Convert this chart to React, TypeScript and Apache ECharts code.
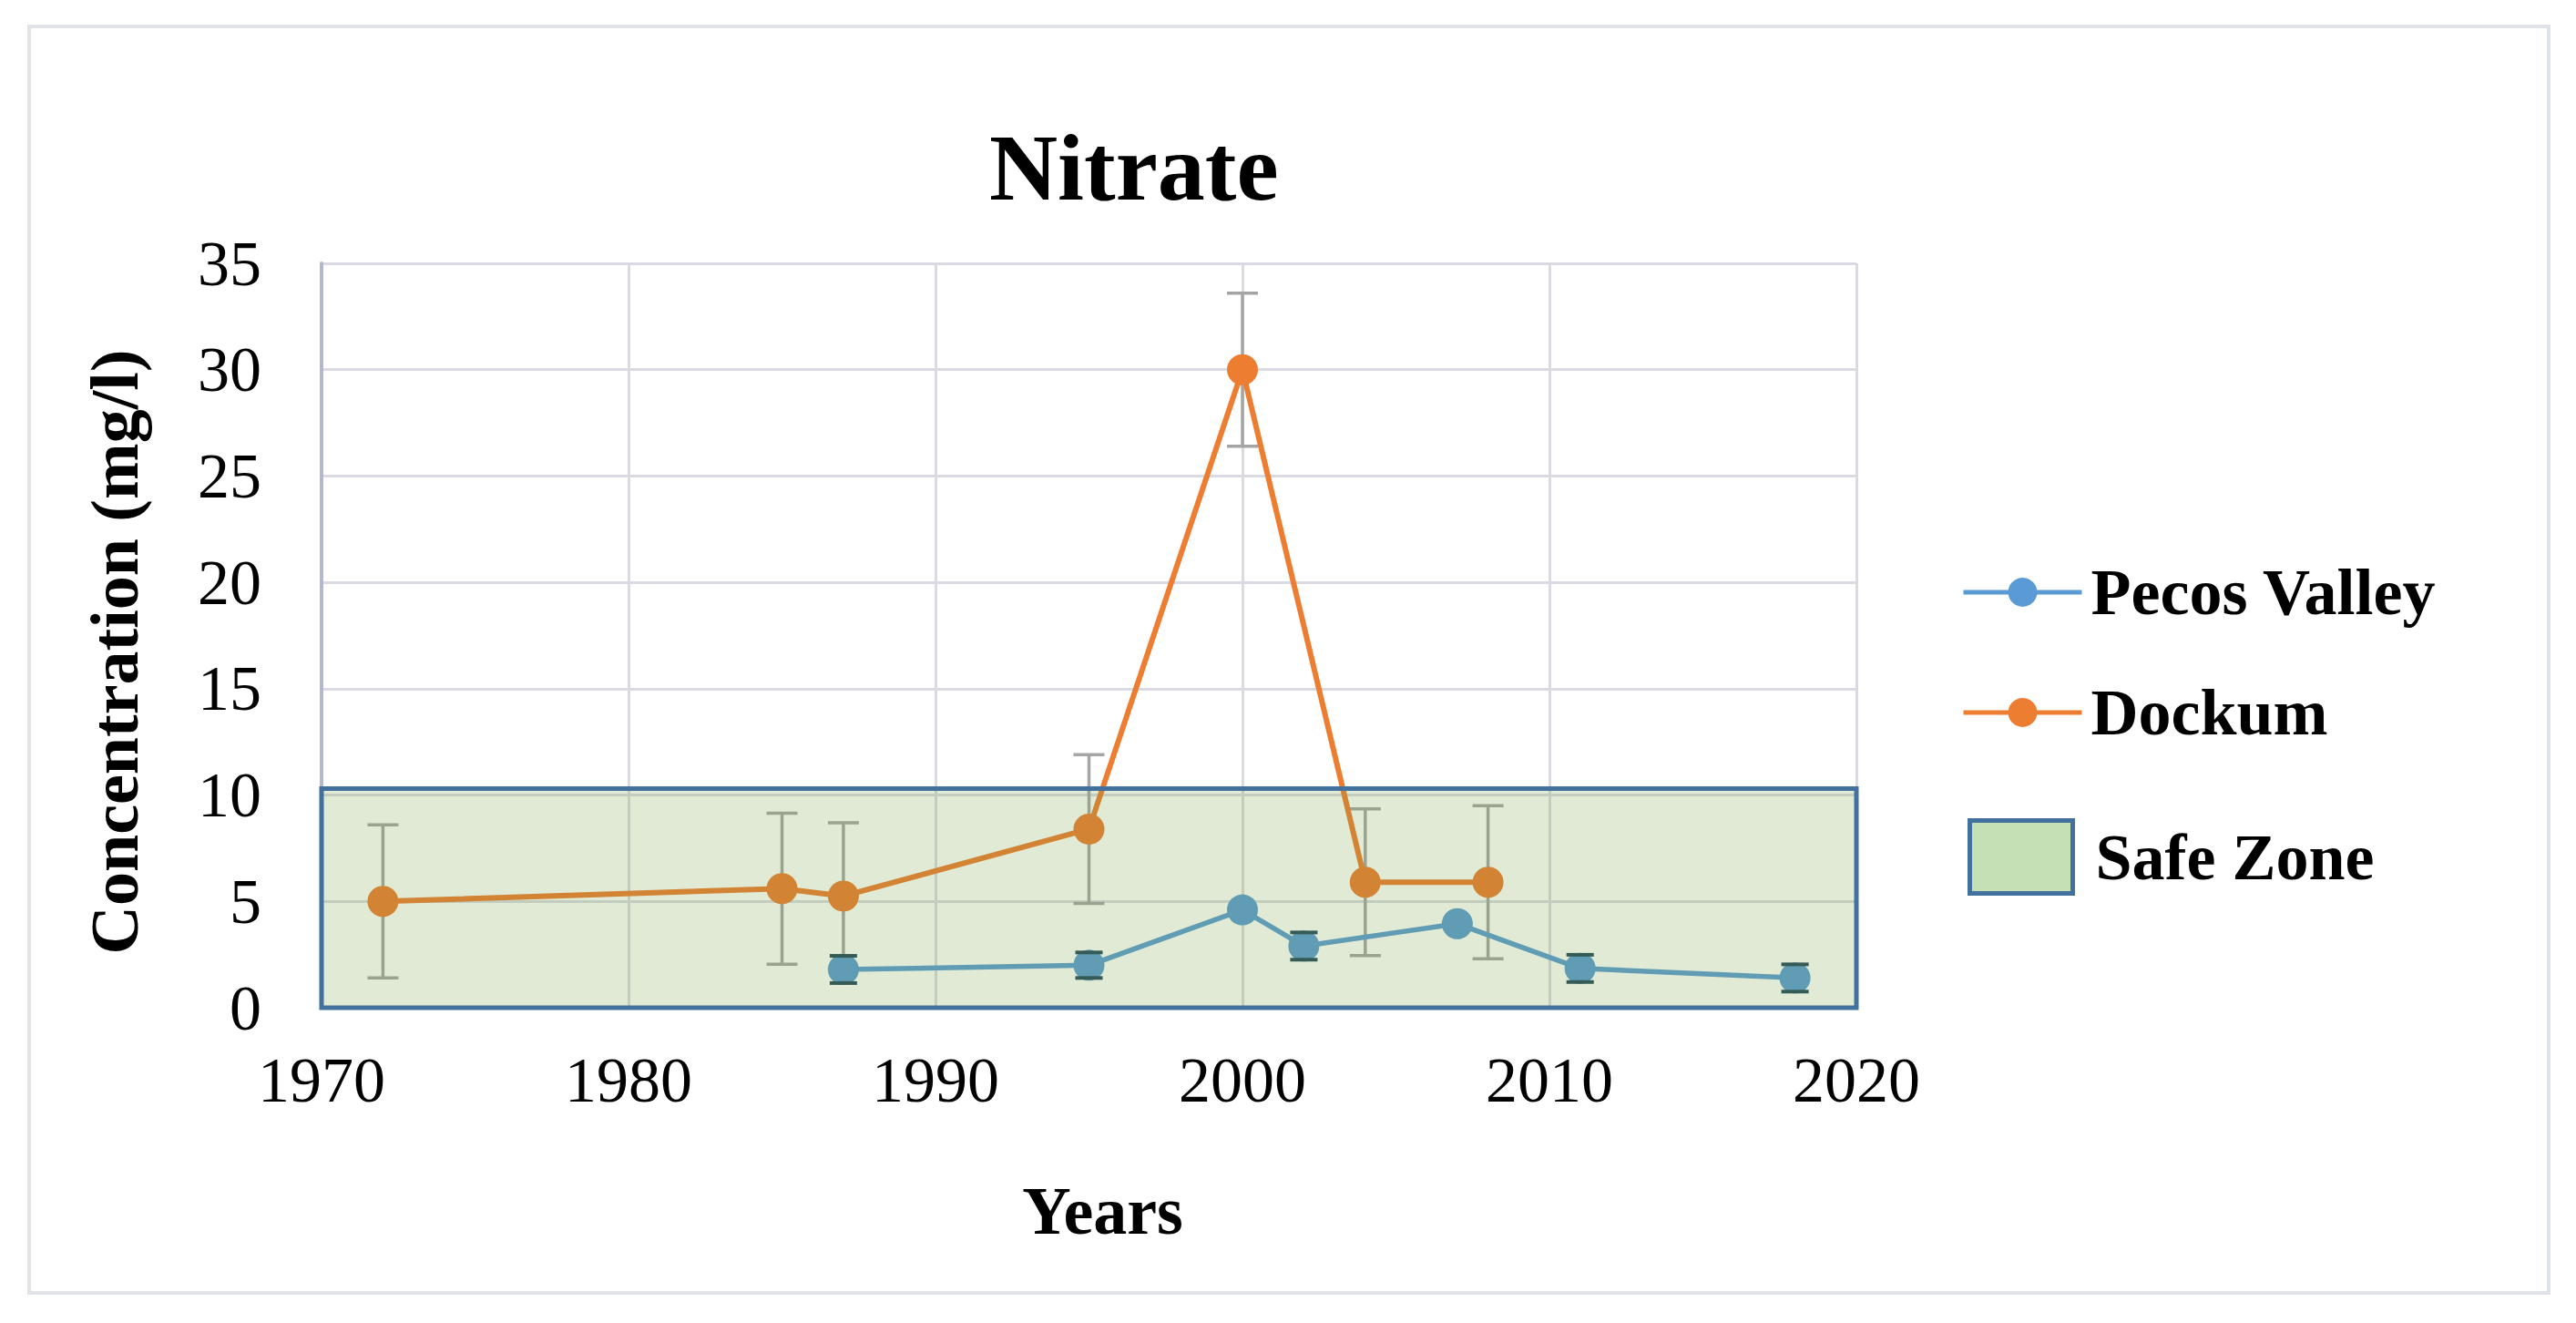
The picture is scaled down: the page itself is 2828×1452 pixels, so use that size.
import React, { useEffect, useRef } from "react";
import * as echarts from "echarts";

// ---- data ----
const dockumYears = [1972, 1985, 1987, 1995, 2000, 2004, 2008];
const dockumValues = [5.0, 5.6, 5.25, 8.4, 30.0, 5.9, 5.9];
const dockumErrors = [3.6, 3.55, 3.45, 3.5, 3.6, 3.45, 3.6];

const pecosYears = [1987, 1995, 2000, 2002, 2007, 2011, 2018];
const pecosValues = [1.8, 2.0, 4.6, 2.9, 3.95, 1.85, 1.4];
const pecosErrors = [0.64, 0.6, 0, 0.64, 0, 0.64, 0.64];

const safeZone = [[1970, 0, 2020, 10.3]]; // [xStart, yStart, xEnd, yEnd]

const xTicks = { min: 1970, max: 2020, interval: 10 };
const yTicks = { min: 0, max: 35, interval: 5 };

const titleText = "Nitrate";
const xName = "Years";
const yName = "Concentration (mg/l)";
const seriesNames = ["Pecos Valley", "Dockum", "Safe Zone"];

const SERIF = "'Liberation Serif', 'Times New Roman', serif";
const ORANGE = "#ed7d31";
const BLUE = "#5b9bd5";

function errorBarRenderer(color: string, capColor: string, width: number, capHalf: number) {
  return (params: any, api: any) => {
    const x = api.value(0);
    const y = api.value(1);
    const e = api.value(2);
    if (!e) return { type: "group", children: [] };
    const top = api.coord([x, y + e]);
    const bot = api.coord([x, y - e]);
    return {
      type: "group",
      children: [
        { type: "line", shape: { x1: top[0], y1: top[1], x2: bot[0], y2: bot[1] }, style: { stroke: color, lineWidth: width } },
        { type: "line", shape: { x1: top[0] - capHalf, y1: top[1], x2: top[0] + capHalf, y2: top[1] }, style: { stroke: capColor, lineWidth: width } },
        { type: "line", shape: { x1: bot[0] - capHalf, y1: bot[1], x2: bot[0] + capHalf, y2: bot[1] }, style: { stroke: capColor, lineWidth: width } },
      ],
    };
  };
}

export default function App() {
  const ref = useRef<HTMLDivElement>(null);
  useEffect(() => {
    if (!ref.current) return;
    const chart = echarts.init(ref.current, undefined, { renderer: "svg" });
    const option: any = {
      animation: false,
      backgroundColor: "#ffffff",
      title: {
        text: titleText,
        left: 1081,
        top: 126,
        textStyle: { fontFamily: SERIF, fontWeight: "bold", fontSize: 104, color: "#000" },
      },
      graphic: [
        {
          type: "rect",
          z: -10,
          shape: { x: 32, y: 29, width: 2766, height: 1390 },
          style: { fill: "none", stroke: "#dfe2e7", lineWidth: 4 },
        },
      ],
      legend: [
        {
          data: [seriesNames[0], seriesNames[1]],
          orient: "vertical",
          left: 2148,
          top: 609,
          itemWidth: 130,
          itemHeight: 40,
          itemGap: 60,
          selectedMode: false,
          lineStyle: { width: 5 },
          textStyle: { fontFamily: SERIF, fontWeight: "bold", fontSize: 72, color: "#000", padding: [0, 0, 0, 5] },
        },
        {
          data: [
            {
              name: seriesNames[2],
              icon: "rect",
              itemStyle: { color: "#c5e0b4", borderColor: "#41719c", borderWidth: 5 },
            },
          ],
          orient: "vertical",
          left: 2155,
          top: 893,
          itemWidth: 113,
          itemHeight: 80,
          selectedMode: false,
          textStyle: { fontFamily: SERIF, fontWeight: "bold", fontSize: 72, color: "#000", padding: [14, 0, 0, 20] },
        },
      ],
      grid: { left: 353, right: 790, top: 289, bottom: 346, containLabel: false },
      xAxis: {
        type: "value",
        min: xTicks.min,
        max: xTicks.max,
        interval: xTicks.interval,
        name: xName,
        nameLocation: "middle",
        nameGap: 186,
        nameTextStyle: { fontFamily: SERIF, fontWeight: "bold", fontSize: 74, color: "#000", padding: [0, 0, 0, 30] },
        axisLine: { show: false },
        axisTick: { show: false },
        axisLabel: { fontFamily: SERIF, fontSize: 70, color: "#000", margin: 44, formatter: (v: number) => String(v) },
        splitLine: { show: true, lineStyle: { color: "#d9dae3", width: 3 } },
      },
      yAxis: {
        type: "value",
        min: yTicks.min,
        max: yTicks.max,
        interval: yTicks.interval,
        name: yName,
        nameLocation: "middle",
        nameGap: 190,
        nameTextStyle: { fontFamily: SERIF, fontWeight: "bold", fontSize: 74, color: "#000", padding: [0, 36, 0, 0] },
        axisLine: { show: true, lineStyle: { color: "#b4b8cc", width: 4 } },
        axisTick: { show: false },
        axisLabel: { fontFamily: SERIF, fontSize: 70, color: "#000", margin: 66 },
        splitLine: { show: true, lineStyle: { color: "#d9dae3", width: 3 } },
      },
      series: [
        {
          name: "Dockum error",
          type: "custom",
          z: 2,
          silent: true,
          renderItem: errorBarRenderer("#a5a5a5", "#a5a5a5", 3.5, 17),
          data: dockumYears.map((yr, i) => [yr, dockumValues[i], dockumErrors[i]]),
        },
        {
          name: seriesNames[1],
          type: "line",
          z: 3,
          symbol: "circle",
          symbolSize: 34,
          itemStyle: { color: ORANGE },
          lineStyle: { color: ORANGE, width: 6 },
          data: dockumYears.map((yr, i) => [yr, dockumValues[i]]),
        },
        {
          name: seriesNames[0],
          type: "line",
          z: 3,
          symbol: "circle",
          symbolSize: 34,
          itemStyle: { color: BLUE },
          lineStyle: { color: BLUE, width: 5.5 },
          data: pecosYears.map((yr, i) => [yr, pecosValues[i]]),
        },
        {
          name: "Pecos error",
          type: "custom",
          z: 4,
          silent: true,
          renderItem: errorBarRenderer(BLUE, "#24485e", 4, 15),
          data: pecosYears.map((yr, i) => [yr, pecosValues[i], pecosErrors[i]]),
        },
        {
          name: seriesNames[2],
          type: "custom",
          z: 5,
          silent: true,
          itemStyle: { color: "#c5e0b4" },
          renderItem: (params: any, api: any) => {
            const p0 = api.coord([api.value(0), api.value(3)]);
            const p1 = api.coord([api.value(2), api.value(1)]);
            return {
              type: "rect",
              shape: { x: p0[0], y: p0[1], width: p1[0] - p0[0], height: p1[1] - p0[1] },
              style: { fill: "rgba(112,160,64,0.22)", stroke: "#41719c", lineWidth: 5 },
            };
          },
          data: safeZone,
        },
      ],
    };
    chart.setOption(option);
    return () => chart.dispose();
  }, []);
  return (
    <div
      ref={ref}
      style={{ position: "absolute", left: 0, top: 0, width: 2828, height: 1452, background: "#fff" }}
    />
  );
}
